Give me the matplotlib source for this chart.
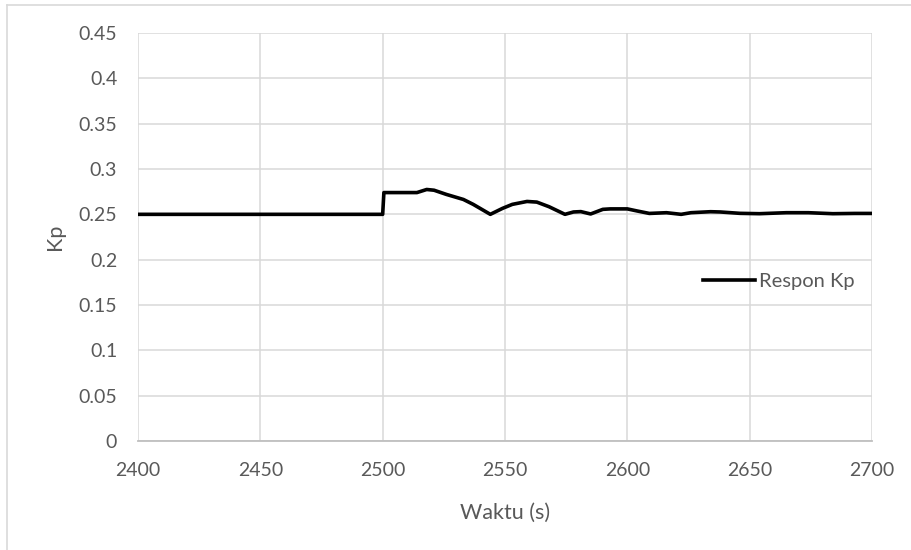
#!/usr/bin/env python
'''
Respon Kp terhadap waktu, gaya grafik Excel.
'''
import matplotlib
matplotlib.use('Agg')
import matplotlib.pyplot as plt
from matplotlib.lines import Line2D

# Data
waktu = [2400, 2500, 2500.5, 2514, 2518, 2521, 2526, 2533, 2537, 2544,
         2549, 2553, 2559, 2563, 2568, 2574.5, 2578, 2581, 2585, 2590,
         2593, 2600, 2604, 2609, 2616, 2622, 2626, 2634, 2638, 2646,
         2654, 2665, 2674, 2684, 2693, 2700]
kp = [0.25, 0.25, 0.274, 0.274, 0.2774, 0.2766, 0.272, 0.2664, 0.261, 0.25,
      0.2566, 0.261, 0.2642, 0.2635, 0.2584, 0.25, 0.2526, 0.253, 0.2504, 0.2555,
      0.256, 0.256, 0.2537, 0.251, 0.2518, 0.25, 0.2518, 0.2529, 0.2526, 0.2511,
      0.2507, 0.2518, 0.2518, 0.2507, 0.251, 0.251]
x_ticks = [2400, 2450, 2500, 2550, 2600, 2650, 2700]
y_ticks = [0, 0.05, 0.1, 0.15, 0.2, 0.25, 0.3, 0.35, 0.4, 0.45]
y_labels = ['0', '0.05', '0.1', '0.15', '0.2', '0.25', '0.3', '0.35', '0.4', '0.45']

TEXT = '#595959'
GRID = '#d9d9d9'
plt.rcParams['font.family'] = ['Lato', 'DejaVu Sans']

fig = plt.figure(figsize=(9.11, 5.5), dpi=100)
ax = fig.add_axes([138 / 911., 109 / 550., 734 / 911., 408 / 550.])

ax.plot(waktu, kp, color='black', lw=2.6, label='Respon Kp',
        solid_joinstyle='round', zorder=3)

ax.set_xlim(2400, 2700)
ax.set_ylim(0, 0.45)
ax.set_xticks(x_ticks)
ax.set_yticks(y_ticks)
ax.set_yticklabels(y_labels)
ax.grid(True, color=GRID, lw=1.1)
ax.set_axisbelow(True)
for side in ['top', 'right', 'left']:
    ax.spines[side].set_visible(False)
ax.spines['bottom'].set_color('#bfbfbf')
ax.spines['bottom'].set_linewidth(1.3)
ax.tick_params(length=0, colors=TEXT, labelsize=14)
ax.tick_params(axis='x', pad=15)
ax.tick_params(axis='y', pad=15)

ax.set_xlabel('Waktu (s)', color=TEXT, fontsize=15.5)
ax.set_ylabel('Kp', color=TEXT, fontsize=15.5)
ax.xaxis.set_label_coords(0.5, -0.152)
ax.yaxis.set_label_coords(-0.0995, 0.5)

ax.legend(loc='center left', bbox_to_anchor=(703 / 911., 1 - 281 / 550.),
          bbox_transform=fig.transFigure, frameon=False, borderpad=0,
          borderaxespad=0, handlelength=2.6, handletextpad=0.2,
          labelcolor=TEXT, prop={'size': 14.5})

# Bingkai area grafik (kiri dan atas)
fig.add_artist(Line2D([7 / 911., 7 / 911.], [0, 1 - 5 / 550.],
                      transform=fig.transFigure, color=GRID, lw=1.2))
fig.add_artist(Line2D([7 / 911., 1], [1 - 5 / 550., 1 - 5 / 550.],
                      transform=fig.transFigure, color=GRID, lw=1.2))

fig.savefig('out.png', dpi=100)
